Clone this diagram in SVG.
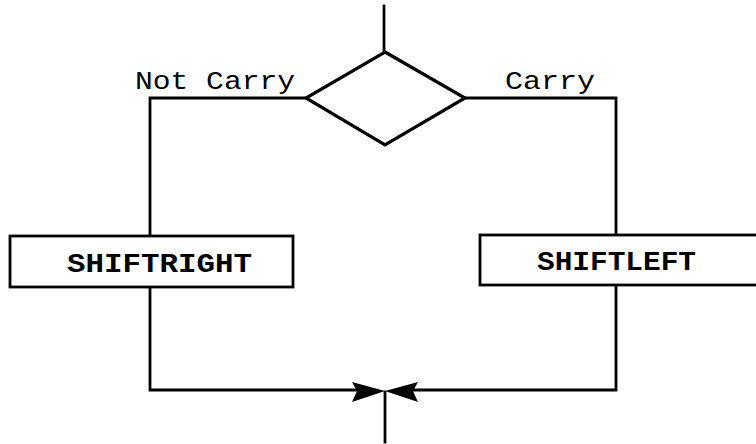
<svg xmlns="http://www.w3.org/2000/svg" width="756" height="444" viewBox="0 0 756 444">
<style>
.ln{stroke:#000;stroke-width:2.8;fill:none;stroke-linecap:square}
.box{stroke:#000;stroke-width:2.8;fill:#fff}
.lbl{font-family:"Liberation Mono","Courier New",monospace;font-size:26px;fill:#000}
.name{font-family:"Liberation Mono","Courier New",monospace;font-size:28px;font-weight:bold;fill:#000}
.ah{fill:#000;stroke:none}
</style>
<rect width="756" height="444" fill="#fff"/>
<g id="connectors">
<line class="ln" x1="384" y1="6" x2="384" y2="52"/>
<polyline class="ln" points="306,98 150,98 150,236"/>
<polyline class="ln" points="465,98 616,98 616,235"/>
<polyline class="ln" points="150,287 150,390 360,390"/>
<polyline class="ln" points="616,285 616,390 410,390"/>
<line class="ln" x1="385" y1="392" x2="385" y2="442"/>
<polygon class="ah" points="352,382 385,391 352,402 357,391"/>
<polygon class="ah" points="418,382 385,391 418,402 413,391"/>
</g>
<g id="decision">
<polygon class="ln" points="385,52 465,98 385,145 306,98" style="stroke-width:3.2"/>
</g>
<g id="label-not-carry">
<text class="lbl" x="135" y="89" textLength="160" lengthAdjust="spacingAndGlyphs">Not Carry</text>
</g>
<g id="label-carry">
<text class="lbl" x="505" y="89" textLength="90" lengthAdjust="spacingAndGlyphs">Carry</text>
</g>
<g id="shiftright">
<rect class="box" x="10" y="236" width="283" height="51"/>
<text class="name" x="67" y="272" textLength="185" lengthAdjust="spacingAndGlyphs">SHIFTRIGHT</text>
</g>
<g id="shiftleft">
<rect class="box" x="480" y="235" width="290" height="50"/>
<text class="name" x="537" y="270" textLength="159" lengthAdjust="spacingAndGlyphs">SHIFTLEFT</text>
</g>
</svg>
